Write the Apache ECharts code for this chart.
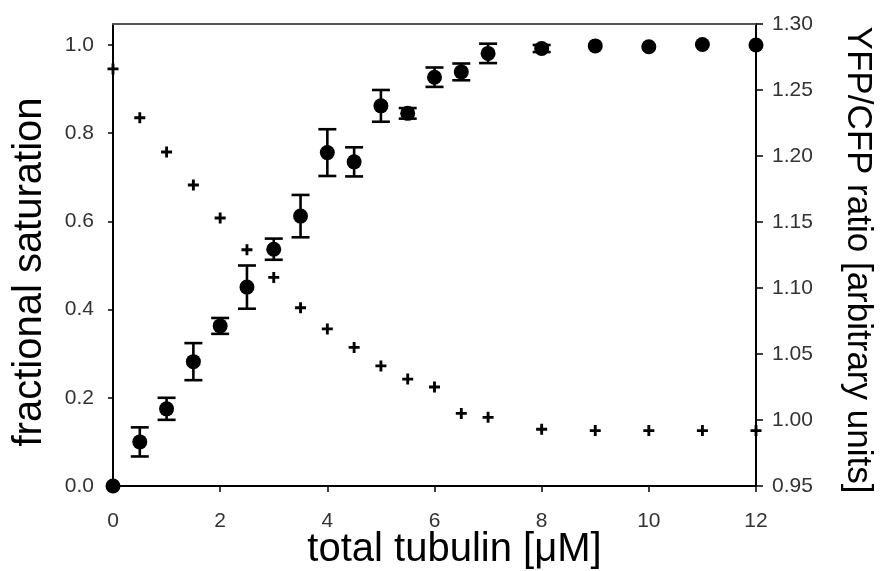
<!DOCTYPE html>
<html><head><meta charset="utf-8">
<script src="https://cdn.jsdelivr.net/npm/echarts@6/dist/echarts.min.js"></script>
<style>html,body{margin:0;padding:0;background:#fff;overflow:hidden}#c{width:880px;height:571px}</style>
</head><body><div id="c"></div>
<script>
// total tubulin concentration [µM]
const tubulin = [0, 0.5, 1, 1.5, 2, 2.5, 3, 3.5, 4, 4.5, 5, 5.5, 6, 6.5, 7, 8, 9, 10, 11, 12];
// fractional saturation (filled circles, left axis)
const saturation = [0, 0.100, 0.175, 0.282, 0.363, 0.451, 0.537, 0.612, 0.756, 0.735, 0.862, 0.845, 0.927, 0.939, 0.981, 0.992, 0.998, 0.996, 1.001, 1.000];
// symmetric error of saturation
const saturationErr = [0, 0.033, 0.025, 0.042, 0.018, 0.049, 0.024, 0.048, 0.053, 0.033, 0.036, 0.012, 0.022, 0.019, 0.022, 0.008, 0, 0, 0, 0];
// YFP/CFP ratio (crosses, right axis)
const ratio = [1.266, 1.229, 1.203, 1.178, 1.153, 1.129, 1.108, 1.085, 1.069, 1.055, 1.041, 1.031, 1.025, 1.005, 1.002, 0.993, 0.992, 0.992, 0.992, 0.992];

const xTitle = 'total tubulin [\u03bcM]';
const yLeftTitle = 'fractional saturation';
const yRightTitle = 'YFP/CFP ratio [arbitrary units]';

const FONT = '"Liberation Sans", Arial, Helvetica, sans-serif';
const LEFT_MAX = (1.30 - 0.95) * 1320 / 441; // left axis spans same height as right

const plusPath = 'path://M3.7,0H6.3V3.7H10V6.3H6.3V10H3.7V6.3H0V3.7H3.7Z';

const chart = echarts.init(document.getElementById('c'), null, {renderer: 'canvas', width: 880, height: 571});
chart.setOption({
  animation: false,
  backgroundColor: '#fff',
  grid: {left: 113, top: 24, width: 643, height: 462, containLabel: false, outerBoundsMode: 'none'},
  xAxis: [{
    type: 'value', min: 0, max: 12, interval: 2,
    name: xTitle, nameLocation: 'middle', nameGap: 44, nameMoveOverlap: false,
    nameTextStyle: {fontFamily: FONT, fontSize: 40, color: '#000', padding: [0, 0, 0, 40]},
    axisLine: {show: true, onZero: false, lineStyle: {color: '#000', width: 2}},
    axisTick: {show: true, length: 6, inside: false, lineStyle: {color: '#000', width: 1.5}},
    axisLabel: {fontFamily: FONT, fontSize: 21, color: '#333', margin: 25},
    splitLine: {show: false}
  }, {
    type: 'value', min: 0, max: 12, position: 'top',
    axisLine: {show: true, onZero: false, lineStyle: {color: '#555', width: 2}},
    axisTick: {show: false}, axisLabel: {show: false}, splitLine: {show: false}
  }],
  yAxis: [{
    type: 'value', min: 0, max: LEFT_MAX, interval: 0.2, position: 'left',
    name: yLeftTitle, nameLocation: 'middle', nameGap: 63, nameRotate: 90, nameMoveOverlap: false,
    nameTextStyle: {fontFamily: FONT, fontSize: 40, color: '#000', padding: [0, 34, 0, 0]},
    axisLine: {show: true, onZero: false, lineStyle: {color: '#000', width: 2}},
    axisTick: {show: true, length: 5, lineStyle: {color: '#000', width: 1.5}},
    axisLabel: {fontFamily: FONT, fontSize: 21, color: '#333', margin: 19, showMaxLabel: false,
      formatter: v => (Math.abs(v - Math.round(v * 5) / 5) < 1e-6 ? v.toFixed(1) : '')},
    splitLine: {show: false}
  }, {
    type: 'value', min: 0.95, max: 1.30, interval: 0.05, position: 'right',
    name: yRightTitle, nameLocation: 'middle', nameGap: 84, nameRotate: -90, nameMoveOverlap: false,
    nameTextStyle: {fontFamily: FONT, fontSize: 35, color: '#000', padding: [0, 0, 0, 10]},
    axisLine: {show: true, onZero: false, lineStyle: {color: '#000', width: 2}},
    axisTick: {show: true, length: 7, lineStyle: {color: '#000', width: 1.5}},
    axisLabel: {fontFamily: FONT, fontSize: 21, color: '#333', margin: 16,
      formatter: v => v.toFixed(2)},
    splitLine: {show: false}
  }],
  series: [{
    name: 'ratio', type: 'scatter', xAxisIndex: 0, yAxisIndex: 1,
    symbol: plusPath, symbolSize: 11, clip: false, z: 5,
    itemStyle: {color: '#000', opacity: 1},
    data: tubulin.map((x, i) => [x, ratio[i]])
  }, {
    name: 'error', type: 'custom', xAxisIndex: 0, yAxisIndex: 0, clip: false, z: 6,
    data: tubulin.map((x, i) => [x, saturation[i] - saturationErr[i], saturation[i] + saturationErr[i]]),
    renderItem: function (params, api) {
      const x = api.value(0), lo = api.value(1), hi = api.value(2);
      if (hi - lo <= 0) return null;
      const p1 = api.coord([x, hi]), p2 = api.coord([x, lo]);
      const w = 9;
      const style = {stroke: '#000', lineWidth: 2.6, fill: null};
      return {type: 'group', children: [
        {type: 'line', shape: {x1: p1[0], y1: p1[1], x2: p2[0], y2: p2[1]}, style: style},
        {type: 'line', shape: {x1: p1[0] - w, y1: p1[1], x2: p1[0] + w, y2: p1[1]}, style: style},
        {type: 'line', shape: {x1: p2[0] - w, y1: p2[1], x2: p2[0] + w, y2: p2[1]}, style: style}
      ]};
    }
  }, {
    name: 'saturation', type: 'scatter', xAxisIndex: 0, yAxisIndex: 0,
    symbol: 'circle', symbolSize: 15, clip: false, z: 7,
    itemStyle: {color: '#000', opacity: 1},
    data: tubulin.map((x, i) => [x, saturation[i]])
  }]
});
</script>
</body></html>
